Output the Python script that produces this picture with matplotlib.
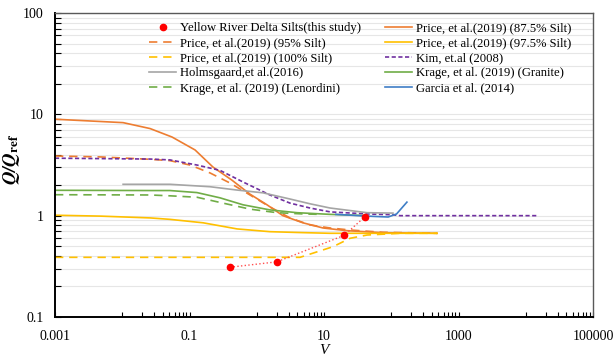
import numpy as np
import matplotlib.pyplot as plt
from matplotlib.ticker import FixedLocator, NullFormatter

plt.rcParams['font.family'] = ['Liberation Serif', 'DejaVu Serif']
plt.rcParams['mathtext.fontset'] = 'stix'

# Q/Qref against V for each data set
v_yrd = [0.40, 1.98, 20, 40.8]
q_yrd = [0.31, 0.35, 0.64, 0.98]

v_p875 = [0.001, 0.0103, 0.0259, 0.055, 0.121, 0.223, 0.428, 0.794, 1.42, 2.45, 4.87, 9.67, 22, 75, 480]
q_p875 = [8.95, 8.28, 7.24, 5.97, 4.45, 3.02, 2.24, 1.63, 1.28, 1.0, 0.85, 0.756, 0.711, 0.679, 0.67]

v_p95 = [0.001, 0.0047, 0.0259, 0.0513, 0.1016, 0.202, 0.40, 0.794, 1.57, 3.12, 6.19, 12.3, 24.4, 75, 480]
q_p95 = [3.88, 3.80, 3.60, 3.49, 3.16, 2.64, 2.10, 1.60, 1.22, 0.95, 0.81, 0.756, 0.722, 0.686, 0.67]

v_p975 = [0.001, 0.0047, 0.026, 0.051, 0.16, 0.51, 1.57, 4.87, 12.3, 480]
q_p975 = [1.01, 0.99, 0.95, 0.92, 0.85, 0.74, 0.695, 0.68, 0.67, 0.67]

v_p100 = [0.001, 4.4, 13.6, 24.4, 43.6, 135, 480]
q_p100 = [0.388, 0.388, 0.494, 0.598, 0.644, 0.67, 0.67]

v_kim = [0.001, 0.0259, 0.0513, 0.129, 0.284, 0.625, 1.57, 3.12, 6.19, 12.3, 43.6, 106, 135, 15000]
q_kim = [3.69, 3.62, 3.55, 3.16, 2.8, 2.15, 1.60, 1.33, 1.19, 1.09, 1.04, 1.02, 1.0, 1.0]

v_holm = [0.0103, 0.0513, 0.202, 0.508, 1.24, 3.12, 6.19, 12.3, 43.6, 106]
q_holm = [2.04, 2.04, 1.93, 1.79, 1.68, 1.46, 1.31, 1.19, 1.07, 1.06]

v_granite = [0.001, 0.0259, 0.0513, 0.129, 0.284, 0.625, 1.57, 3.97, 12.3, 43.6]
q_granite = [1.78, 1.77, 1.77, 1.69, 1.50, 1.28, 1.14, 1.07, 1.03, 1.0]

v_lenordini = [0.001, 0.0259, 0.0513, 0.129, 0.315, 0.794, 2.0, 4.87, 8.7]
q_lenordini = [1.61, 1.60, 1.57, 1.52, 1.33, 1.16, 1.07, 1.04, 1.03]

v_garcia = [15, 43.6, 90, 120, 171]
q_garcia = [1.03, 0.99, 0.97, 1.04, 1.36]

labels = ['Yellow River Delta Silts(this study)', 'Price, et al.(2019) (87.5% Silt)',
          'Price, et al.(2019) (95% Silt)', 'Price, et al.(2019) (97.5% Silt)',
          'Price, et al.(2019) (100% Silt)', 'Kim, et.al (2008)',
          'Holmsgaard,et al.(2016)', 'Krage, et al. (2019) (Granite)',
          'Krage, et al. (2019) (Lenordini)', 'Garcia et al. (2014)']

orange = '#ED7D31'
yellow = '#FFC000'
purple = '#7030A0'
gray = '#A5A5A5'
green = '#70AD47'
blue = '#3F7EC6'
lw = 1.2
dash = (0, (5, 3.5))

fig = plt.figure(figsize=(6.15, 3.56), dpi=100)
ax = fig.add_axes([55 / 615, 1 - 317 / 356, 538 / 615, 304 / 356])

h = {}
h[0], = ax.plot(v_yrd, q_yrd, color='#FF5050', ls=':', lw=1.0, marker='o', ms=4.5,
                mfc='red', mec='red', zorder=5)
h[1], = ax.plot(v_p875, q_p875, color=orange, lw=lw)
h[2], = ax.plot(v_p95, q_p95, color=orange, lw=lw, ls=dash)
h[3], = ax.plot(v_p975, q_p975, color=yellow, lw=lw)
h[4], = ax.plot(v_p100, q_p100, color=yellow, lw=lw, ls=dash)
h[5], = ax.plot(v_kim, q_kim, color=purple, lw=lw, ls=(0, (2.5, 1.5)))
h[6], = ax.plot(v_holm, q_holm, color=gray, lw=lw)
h[7], = ax.plot(v_granite, q_granite, color=green, lw=lw)
h[8], = ax.plot(v_lenordini, q_lenordini, color=green, lw=lw, ls=dash)
h[9], = ax.plot(v_garcia, q_garcia, color=blue, lw=lw)

# legend marker for the study data is shown without its connecting line
handles = [plt.Line2D([], [], color='red', marker='o', ms=4.5, ls='none')] + [h[i] for i in range(1, 10)]
# matplotlib fills legend columns first, so reorder to read across rows
order = [0, 2, 4, 6, 8, 1, 3, 5, 7, 9]
leg_h = [handles[i] for i in order]
leg_l = [labels[i] for i in order]

ax.set_xscale('log')
ax.set_yscale('log')
ax.set_xlim(0.001, 100000)
ax.set_ylim(0.1, 100)

xmaj = [0.001, 0.1, 10, 1000, 100000]
ax.xaxis.set_major_locator(FixedLocator(xmaj))
ax.set_xticklabels(['0.001', '0.1', '10', '1000', '100000'])
xmin = [10 ** (k + 1) * j for k in (-3, -1, 1, 3) for j in range(1, 10)]
ax.xaxis.set_minor_locator(FixedLocator(xmin))
ax.xaxis.set_minor_formatter(NullFormatter())

ax.yaxis.set_major_locator(FixedLocator([0.1, 1, 10, 100]))
ax.set_yticklabels(['0.1', '1', '10', '100'])
ymin = [10.0 ** k * j for k in (-1, 0, 1) for j in range(2, 10)]
ax.yaxis.set_minor_locator(FixedLocator(ymin))
ax.yaxis.set_minor_formatter(NullFormatter())

ax.tick_params(which='both', direction='in', labelsize=10, width=0.8, color='black')
ax.tick_params(axis='y', which='both', length=4, pad=8)
ax.tick_params(axis='x', which='both', length=3.5, pad=9)

ax.grid(axis='y', which='both', color='#E6E6E6', lw=0.8)
ax.set_axisbelow(True)

for s in ['left', 'bottom']:
    ax.spines[s].set_color('black')
    ax.spines[s].set_linewidth(1.4)
for s in ['top', 'right']:
    ax.spines[s].set_color('#595959')
    ax.spines[s].set_linewidth(1.0)

ax.set_xlabel('V', fontstyle='italic', fontsize=11, labelpad=1)
ax.set_ylabel(r'$\mathbfit{Q/Q}_{\mathbf{ref}}$', fontsize=13.5)
ax.yaxis.set_label_coords(-0.062, 0.52)

fig.legend(leg_h, leg_l, ncol=2, loc='upper left', bbox_to_anchor=(149 / 615, 1 - 22 / 356),
           frameon=False, fontsize=9.1, borderpad=0, borderaxespad=0, handlelength=2.15,
           handletextpad=0.32, columnspacing=1.85, labelspacing=0.25)

fig.savefig('out.png', dpi=100)
